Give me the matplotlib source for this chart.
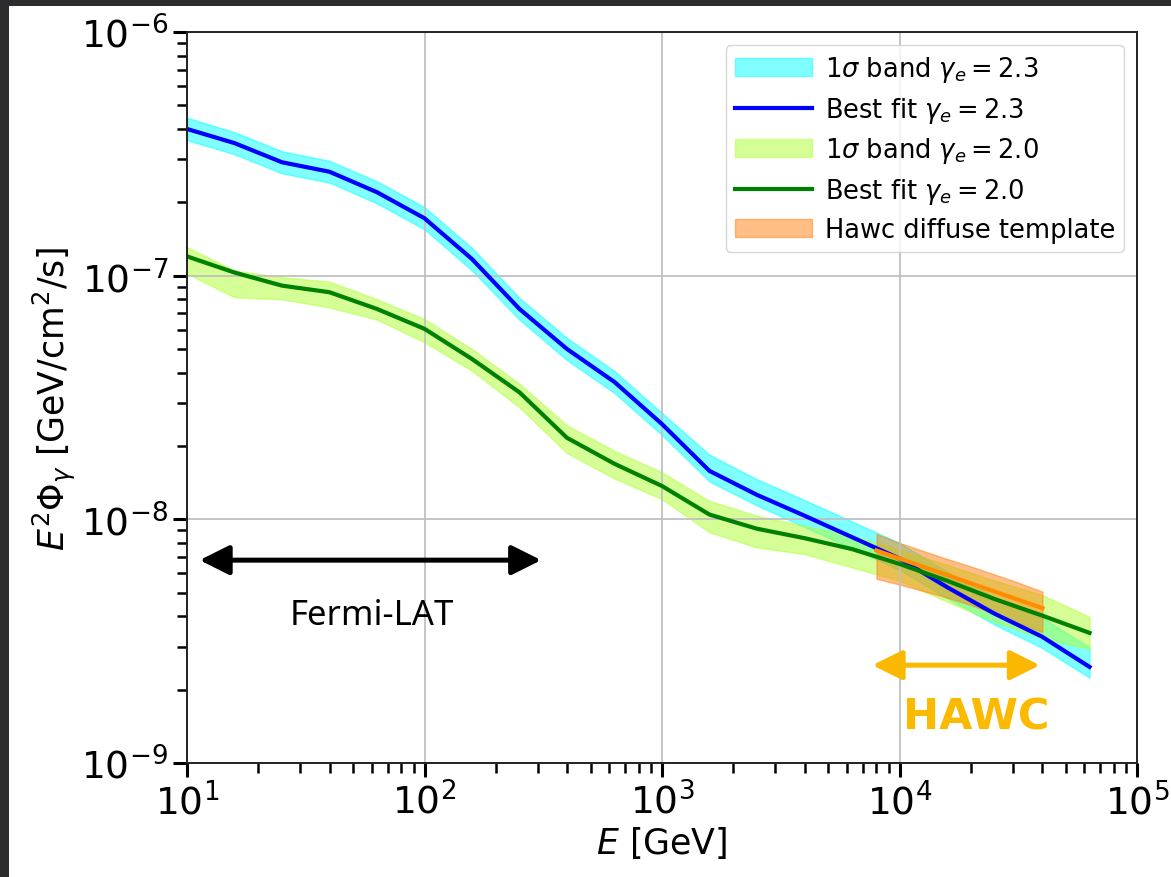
import numpy as np
import matplotlib
matplotlib.use("Agg")
import matplotlib.pyplot as plt
from matplotlib.patches import Rectangle, FancyArrowPatch

# Energy grid of the model curves (GeV)
energy = [10, 15.85, 25.12, 39.81, 63.10, 100, 158.5, 251.2, 398.1, 631.0,
          1000, 1585, 2512, 3981, 6310, 10000, 15850, 25120, 39810, 63100]

# gamma_e = 2.3 : best fit and 1-sigma band  (E^2 Phi, GeV/cm^2/s)
fit_23 = [4.0e-7, 3.5e-7, 2.92e-7, 2.67e-7, 2.2e-7, 1.72e-7, 1.17e-7, 7.3e-8, 5.0e-8, 3.66e-8,
          2.46e-8, 1.58e-8, 1.26e-8, 1.035e-8, 8.45e-9, 6.9e-9, 5.27e-9, 4.1e-9, 3.3e-9, 2.48e-9]
lo_23 = [3.6e-7, 3.15e-7, 2.63e-7, 2.41e-7, 1.98e-7, 1.55e-7, 1.05e-7, 6.6e-8, 4.5e-8, 3.3e-8,
         2.22e-8, 1.43e-8, 1.14e-8, 9.3e-9, 7.6e-9, 6.2e-9, 4.75e-9, 3.7e-9, 2.97e-9, 2.24e-9]
hi_23 = [4.45e-7, 3.88e-7, 3.24e-7, 2.96e-7, 2.44e-7, 1.91e-7, 1.30e-7, 8.1e-8, 5.55e-8, 4.06e-8,
         2.73e-8, 1.84e-8, 1.46e-8, 1.2e-8, 9.8e-9, 8.0e-9, 6.1e-9, 4.8e-9, 3.95e-9, 2.98e-9]

# gamma_e = 2.0 : best fit and 1-sigma band
fit_20 = [1.2e-7, 1.03e-7, 9.1e-8, 8.55e-8, 7.3e-8, 6.05e-8, 4.55e-8, 3.32e-8, 2.16e-8, 1.69e-8,
          1.37e-8, 1.046e-8, 9.15e-9, 8.37e-9, 7.55e-9, 6.56e-9, 5.6e-9, 4.71e-9, 4.03e-9, 3.42e-9]
lo_20 = [1.02e-7, 8.15e-8, 8.0e-8, 7.4e-8, 6.6e-8, 5.33e-8, 4.07e-8, 2.88e-8, 1.87e-8, 1.47e-8,
         1.21e-8, 8.85e-9, 7.67e-9, 7.2e-9, 6.35e-9, 5.6e-9, 4.6e-9, 3.8e-9, 3.25e-9, 2.94e-9]
hi_20 = [1.31e-7, 1.05e-7, 9.85e-8, 9.45e-8, 8.0e-8, 6.64e-8, 5.0e-8, 3.6e-8, 2.43e-8, 1.91e-8,
         1.56e-8, 1.19e-8, 1.035e-8, 9.4e-9, 8.6e-9, 7.5e-9, 6.5e-9, 5.6e-9, 4.9e-9, 3.98e-9]

# HAWC diffuse template
hawc_energy = [8000, 10000, 15000, 20000, 30000, 40000]
hawc_fit = [7.45e-9, 6.9e-9, 6.02e-9, 5.46e-9, 4.76e-9, 4.32e-9]
hawc_lo = [5.7e-9, 5.4e-9, 4.85e-9, 4.45e-9, 3.84e-9, 3.44e-9]
hawc_hi = [8.7e-9, 8.0e-9, 7.0e-9, 6.4e-9, 5.6e-9, 5.05e-9]

# Energy coverage of the instruments (GeV)
fermi_range = (11.3, 310)
hawc_range = (7700, 39000)

fig = plt.figure(figsize=(11.71, 8.78), dpi=100)
fig.patch.set_facecolor("#2c2b2d")
fig.add_artist(Rectangle((9 / 1171, 0), 1 - 9 / 1171, 1 - 7 / 878,
                         transform=fig.transFigure, facecolor="white",
                         edgecolor="none", zorder=0))

ax = fig.add_axes([187 / 1171, 114 / 878, 950 / 1171, 731 / 878])
ax.set_xscale("log")
ax.set_yscale("log")

ax.fill_between(energy, lo_23, hi_23, color="cyan", alpha=0.5,
                label=r"$1\sigma$ band $\gamma_e = 2.3$")
ax.plot(energy, fit_23, color="blue", lw=3, label=r"Best fit $\gamma_e = 2.3$")
ax.fill_between(energy, lo_20, hi_20, color="greenyellow", alpha=0.5,
                label=r"$1\sigma$ band $\gamma_e = 2.0$")
ax.plot(energy, fit_20, color="green", lw=3, label=r"Best fit $\gamma_e = 2.0$")
ax.fill_between(hawc_energy, hawc_lo, hawc_hi, color="#ff7f0e", alpha=0.5,
                label="Hawc diffuse template")
ax.plot(hawc_energy, hawc_fit, color="darkorange", lw=3)

ax.set_xlim(10, 1e5)
ax.set_ylim(1e-9, 1e-6)
ax.grid(True, which="major", color="#c0c0c0", lw=1.3)
for s in ax.spines.values():
    s.set_linewidth(1.4)
    s.set_color("#222222")

ax.tick_params(which="major", length=10, width=2.2, labelsize=27, color="black")
ax.tick_params(which="minor", length=7, width=1.8, color="black")

ax.set_xlabel(r"$E$ [GeV]", fontsize=25, labelpad=2)
ax.set_ylabel(r"$E^2\Phi_\gamma$ [GeV/cm$^2$/s]", fontsize=25, labelpad=2)

leg = ax.legend(loc="upper right", fontsize=18.5, handlelength=3.0,
                handletextpad=0.5, labelspacing=0.42, borderpad=0.35,
                borderaxespad=0.5, framealpha=0.8)

# Instrument ranges
y_fermi = 6.8e-9
ax.add_patch(FancyArrowPatch((fermi_range[0], y_fermi), (fermi_range[1], y_fermi),
                             arrowstyle="<|-|>,head_length=0.9,head_width=0.45",
                             mutation_scale=20, color="black", lw=3.6,
                             shrinkA=0, shrinkB=0, zorder=5))
ax.text(60, 4.05e-9, "Fermi-LAT", fontsize=25, ha="center", va="center",
        family="Noto Sans", color="black")

y_hawc = 2.52e-9
ax.add_patch(FancyArrowPatch((hawc_range[0], y_hawc), (hawc_range[1], y_hawc),
                             arrowstyle="<|-|>,head_length=0.9,head_width=0.45",
                             mutation_scale=20, color="#fbb800", lw=3.6,
                             shrinkA=0, shrinkB=0, zorder=5))
ax.text(2.1e4, 1.55e-9, "HAWC", fontsize=31, ha="center", va="center",
        family="DejaVu Sans", fontweight="bold", color="#fbba00")

fig.savefig("out.png", dpi=100, facecolor=fig.get_facecolor())
